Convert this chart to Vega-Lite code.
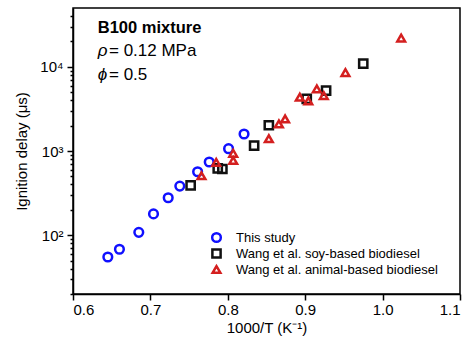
{
  "$schema": "https://vega.github.io/schema/vega-lite/v6.json",
  "autosize": "none",
  "width": 387,
  "height": 286,
  "padding": {"left": 73, "top": 8, "right": 13, "bottom": 58},
  "background": "white",
  "config": {
    "view": {"stroke": "black", "strokeWidth": 1.5},
    "font": "Liberation Sans",
    "axis": {
      "grid": false,
      "domainColor": "black",
      "domainWidth": 1.5,
      "tickColor": "black",
      "tickWidth": 1.5,
      "labelColor": "black",
      "labelFont": "Liberation Sans",
      "labelFontSize": 15,
      "titleFont": "Liberation Sans",
      "titleFontSize": 15,
      "titleFontWeight": "normal",
      "titleColor": "black"
    }
  },
  "datasets": {
    "points": [
      {"T": 0.645, "delay": 55, "series": "This study"},
      {"T": 0.660, "delay": 68, "series": "This study"},
      {"T": 0.685, "delay": 108, "series": "This study"},
      {"T": 0.704, "delay": 179, "series": "This study"},
      {"T": 0.723, "delay": 278, "series": "This study"},
      {"T": 0.738, "delay": 383, "series": "This study"},
      {"T": 0.761, "delay": 567, "series": "This study"},
      {"T": 0.776, "delay": 740, "series": "This study"},
      {"T": 0.801, "delay": 1065, "series": "This study"},
      {"T": 0.821, "delay": 1594, "series": "This study"},
      {"T": 0.752, "delay": 391, "series": "Wang et al. soy-based biodiesel"},
      {"T": 0.787, "delay": 622, "series": "Wang et al. soy-based biodiesel"},
      {"T": 0.793, "delay": 611, "series": "Wang et al. soy-based biodiesel"},
      {"T": 0.834, "delay": 1156, "series": "Wang et al. soy-based biodiesel"},
      {"T": 0.853, "delay": 2023, "series": "Wang et al. soy-based biodiesel"},
      {"T": 0.902, "delay": 4159, "series": "Wang et al. soy-based biodiesel"},
      {"T": 0.927, "delay": 5224, "series": "Wang et al. soy-based biodiesel"},
      {"T": 0.975, "delay": 10940, "series": "Wang et al. soy-based biodiesel"},
      {"T": 0.766, "delay": 508, "series": "Wang et al. animal-based biodiesel"},
      {"T": 0.785, "delay": 733, "series": "Wang et al. animal-based biodiesel"},
      {"T": 0.807, "delay": 939, "series": "Wang et al. animal-based biodiesel"},
      {"T": 0.807, "delay": 771, "series": "Wang et al. animal-based biodiesel"},
      {"T": 0.853, "delay": 1401, "series": "Wang et al. animal-based biodiesel"},
      {"T": 0.866, "delay": 2096, "series": "Wang et al. animal-based biodiesel"},
      {"T": 0.874, "delay": 2404, "series": "Wang et al. animal-based biodiesel"},
      {"T": 0.893, "delay": 4357, "series": "Wang et al. animal-based biodiesel"},
      {"T": 0.904, "delay": 3940, "series": "Wang et al. animal-based biodiesel"},
      {"T": 0.915, "delay": 5470, "series": "Wang et al. animal-based biodiesel"},
      {"T": 0.924, "delay": 4550, "series": "Wang et al. animal-based biodiesel"},
      {"T": 0.952, "delay": 8550, "series": "Wang et al. animal-based biodiesel"},
      {"T": 1.024, "delay": 21970, "series": "Wang et al. animal-based biodiesel"}
    ],
    "heading": [{"T": 0.632, "delay": 25400, "label": "B100 mixture"}],
    "symbols": [
      {"T": 0.632, "delay": 13530, "label": "ρ"},
      {"T": 0.632, "delay": 7000, "label": "ϕ"}
    ],
    "values": [
      {"T": 0.6465, "delay": 13530, "label": "= 0.12 MPa"},
      {"T": 0.6465, "delay": 7000, "label": "= 0.5"}
    ]
  },
  "layer": [
    {
      "data": {"name": "points"},
      "mark": {"type": "point", "filled": false, "strokeWidth": 2.5, "opacity": 1},
      "encoding": {
        "x": {
          "field": "T", "type": "quantitative",
          "scale": {"domain": [0.6, 1.1], "nice": false, "zero": false},
          "axis": {"orient": "bottom", "values": [0.6, 0.65, 0.7, 0.75, 0.8, 0.85, 0.9, 0.95, 1.0, 1.05, 1.1],
            "labelExpr": "abs(datum.value * 10 - round(datum.value * 10)) < 0.01 ? format(datum.value, '.1f') : ''",
            "tickSize": {"condition": {"test": "abs(datum.value * 10 - round(datum.value * 10)) < 0.01", "value": 6}, "value": 3},
            "labelPadding": 2, "title": "1000/T (K⁻¹)", "titlePadding": 3}
        },
        "y": {
          "field": "delay", "type": "quantitative",
          "scale": {"type": "log", "domain": [20, 50000], "nice": false},
          "axis": {"orient": "left",
            "values": [20, 30, 40, 50, 60, 70, 80, 90, 100, 200, 300, 400, 500, 600, 700, 800, 900, 1000, 2000, 3000, 4000, 5000, 6000, 7000, 8000, 9000, 10000, 20000, 30000, 40000],
            "tickSize": {"condition": {"test": "datum.value == 100 || datum.value == 1000 || datum.value == 10000", "value": 6}, "value": 3},
            "labelPadding": 4,
            "labelExpr": "datum.value == 100 ? '10²' : datum.value == 1000 ? '10³' : datum.value == 10000 ? '10⁴' : ''",
            "title": "Ignition delay (μs)", "titlePadding": 10}
        },
        "color": {
          "field": "series", "type": "nominal",
          "scale": {"domain": ["This study", "Wang et al. soy-based biodiesel", "Wang et al. animal-based biodiesel"], "range": ["#1010ff", "#111111", "#d41f1f"]},
          "legend": {
            "title": null, "orient": "none", "legendX": 137, "legendY": 222,
            "labelFontSize": 13, "labelFont": "Liberation Sans", "labelColor": "black", "labelLimit": 0,
            "symbolStrokeWidth": 2.5, "symbolFillColor": "transparent", "rowPadding": 1, "clipHeight": 15, "labelOffset": 13
          }
        },
        "shape": {
          "field": "series", "type": "nominal",
          "scale": {"domain": ["This study", "Wang et al. soy-based biodiesel", "Wang et al. animal-based biodiesel"], "range": ["circle", "square", "triangle-up"]}
        },
        "size": {
          "field": "series", "type": "nominal",
          "scale": {"domain": ["This study", "Wang et al. soy-based biodiesel", "Wang et al. animal-based biodiesel"], "range": [75, 60, 110]}
        }
      }
    },
    {
      "data": {"name": "heading"},
      "mark": {"type": "text", "align": "left", "baseline": "alphabetic", "fontWeight": "bold", "fontSize": 16.5, "font": "Liberation Sans", "color": "black"},
      "encoding": {
        "x": {"field": "T", "type": "quantitative"},
        "y": {"field": "delay", "type": "quantitative"},
        "text": {"field": "label"}
      }
    },
    {
      "data": {"name": "symbols"},
      "mark": {"type": "text", "align": "left", "baseline": "alphabetic", "fontStyle": "italic", "fontSize": 17, "font": "Liberation Sans", "color": "black"},
      "encoding": {
        "x": {"field": "T", "type": "quantitative"},
        "y": {"field": "delay", "type": "quantitative"},
        "text": {"field": "label"}
      }
    },
    {
      "data": {"name": "values"},
      "mark": {"type": "text", "align": "left", "baseline": "alphabetic", "fontSize": 17, "font": "Liberation Sans", "color": "black"},
      "encoding": {
        "x": {"field": "T", "type": "quantitative"},
        "y": {"field": "delay", "type": "quantitative"},
        "text": {"field": "label"}
      }
    }
  ]
}
